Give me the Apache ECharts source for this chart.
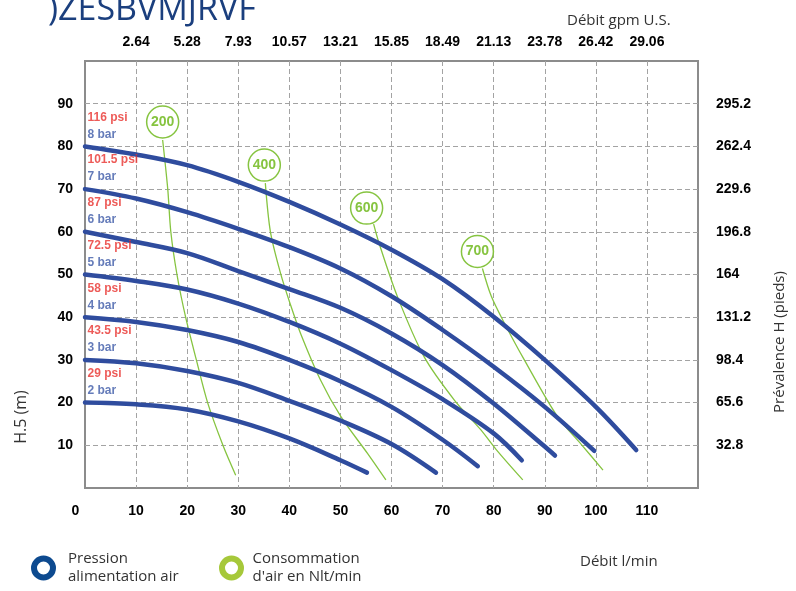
<!DOCTYPE html>
<html lang="fr">
<head>
<meta charset="UTF-8">
<title>Courbe de performance</title>
<script src="https://cdn.jsdelivr.net/npm/echarts/dist/echarts.min.js"></script>
<style>
    html, body { margin: 0; padding: 0; background: #fff; }
    #chart { width: 796px; height: 591px; }
</style>
</head>
<body>
<div id="chart"></div>
<script>
    // pression d'alimentation air : débit l/min -> hauteur m
    var pressureBars = ['2 bar', '3 bar', '4 bar', '5 bar', '6 bar', '7 bar', '8 bar'];
    var pressurePsi = ['29 psi', '43.5 psi', '58 psi', '72.5 psi', '87 psi', '101.5 psi', '116 psi'];
    var curve2 = [[0, 20], [10, 19.6], [20, 18.4], [30, 15.6], [40, 11.6], [50, 6.5], [55.2, 3.6]];
    var curve3 = [[0, 30], [10, 29.2], [20, 27.4], [30, 24.6], [40, 20.4], [50, 15.8], [60, 10.3], [68.7, 3.6]];
    var curve4 = [[0, 40], [10, 38.9], [20, 37.0], [30, 34.2], [40, 30.0], [50, 25.0], [60, 19.0], [70, 11.3], [76.9, 5.1]];
    var curve5 = [[0, 50], [10, 48.5], [20, 46.5], [30, 43.2], [40, 38.9], [50, 33.8], [60, 27.6], [70, 20.8], [80, 12.8], [85.5, 6.5]];
    var curve6 = [[0, 60], [10, 57.6], [20, 55.0], [30, 50.8], [40, 46.6], [50, 42.2], [60, 36.2], [70, 28.8], [80, 19.8], [90, 9.7], [92, 7.6]];
    var curve7 = [[0, 70], [10, 67.8], [20, 64.6], [30, 60.7], [40, 56.4], [50, 51.4], [60, 44.9], [70, 37.0], [80, 28.4], [90, 19.0], [99.7, 8.7]];
    var curve8 = [[0, 80], [10, 78.1], [20, 75.6], [30, 71.7], [40, 67.0], [50, 61.7], [60, 55.8], [70, 48.9], [80, 40.1], [90, 30.0], [100, 19.0], [107.9, 8.9]];
    var pressureCurves = [curve2, curve3, curve4, curve5, curve6, curve7, curve8];

    // consommation d'air en Nlt/min
    var airNames = ['200', '400', '600', '700'];
    var air200 = [[15.2, 81.5], [16.2, 70], [16.8, 60], [18.0, 50], [19.7, 40], [21.8, 30], [24.0, 20], [27.0, 10], [29.5, 3.0]];
    var air400 = [[35.3, 71.4], [36.3, 60], [38.3, 50.2], [40.2, 43], [42.2, 36.2], [46.1, 25.3], [50.1, 16.7], [55.3, 8.1], [58.9, 1.9]];
    var air600 = [[56.5, 61.8], [57.6, 57.2], [61.2, 44.7], [66.4, 30.7], [72.3, 20.6], [77.5, 13.6], [80.5, 9], [85.7, 1.9]];
    var air700 = [[77.8, 51.4], [79.5, 45], [81.8, 39.3], [86.0, 30], [92.5, 16.7], [97.3, 10], [101.4, 4.2]];
    var airCurves = [air200, air400, air600, air700];

    // étiquettes des axes
    var flowLabels = ['0', '10', '20', '30', '40', '50', '60', '70', '80', '90', '100', '110'];
    var gpmLabels = ['', '2.64', '5.28', '7.93', '10.57', '13.21', '15.85', '18.49', '21.13', '23.78', '26.42', '29.06'];
    var headLabels = ['', '10', '20', '30', '40', '50', '60', '70', '80', '90'];
    var feetLabels = ['', '32.8', '65.6', '98.4', '131.2', '164', '196.8', '229.6', '262.4', '295.2'];

    var BLUE = '#2f4c9e';
    var GREEN = '#86c440';
    var tickFont = 'Liberation Sans';
    var textFont = 'Open Sans';
    var circleOffsets = [[0, -18], [-1, -18], [-7, -16], [-5, -17]];

    function pick(arr, v) {
        var s = arr[Math.round(v / 10)];
        return s === undefined ? '' : s;
    }

    var series = [];
    for (var a = 0; a < airCurves.length; a++) {
        series.push({
            name: "Consommation d'air en Nlt/min",
            type: 'line',
            data: airCurves[a],
            smooth: 0.3,
            symbol: 'none',
            z: 2,
            lineStyle: { color: GREEN, width: 1.3 },
            itemStyle: { color: GREEN },
            markPoint: {
                symbol: 'circle',
                symbolSize: 32,
                symbolOffset: circleOffsets[a],
                itemStyle: { color: '#fff', borderColor: GREEN, borderWidth: 1.5 },
                label: {
                    show: true, position: 'inside', color: GREEN,
                    fontSize: 14, fontWeight: 'bold', fontFamily: tickFont,
                    formatter: '{c}'
                },
                data: [{ coord: airCurves[a][0], value: airNames[a] }]
            }
        });
    }
    for (var p = 0; p < pressureCurves.length; p++) {
        series.push({
            name: 'Pression alimentation air',
            type: 'line',
            data: pressureCurves[p],
            smooth: 0.35,
            symbol: 'none',
            z: 3,
            lineStyle: { color: BLUE, width: 4.5, cap: 'round' },
            itemStyle: { color: BLUE }
        });
    }
    // libellés psi / bar au départ de chaque courbe
    series.push({
        name: 'labels',
        type: 'scatter',
        symbolSize: 1,
        silent: true,
        z: 4,
        itemStyle: { color: 'rgba(0,0,0,0)' },
        data: pressureCurves.map(function (c, i) {
            return [c[0][0], c[0][1], pressurePsi[i], pressureBars[i]];
        }),
        label: {
            show: true,
            position: [3, -37],
            align: 'left',
            verticalAlign: 'top',
            formatter: function (pr) {
                return '{r|' + pr.data[2] + '}\n{b|' + pr.data[3] + '}';
            },
            rich: {
                r: { color: '#e8322e', fontSize: 12, fontWeight: 'bold', fontFamily: tickFont, lineHeight: 17 },
                b: { color: '#3d5aa8', fontSize: 12, fontWeight: 'bold', fontFamily: tickFont, lineHeight: 17 }
            }
        }
    });

    var gridLine = { show: true, showMinLine: false, showMaxLine: false, lineStyle: { color: '#a3a3a3', width: 1, type: [5, 3] } };

    var option = {
        animation: false,
        title: [
            { text: ')ZESBVMJRVF', left: 43, top: -12, textStyle: { color: '#1b3f7e', fontSize: 34, fontWeight: 'normal', fontFamily: textFont } },
            { text: 'Débit gpm U.S.', left: 562, top: 8, textStyle: { color: '#333', fontSize: 15, fontWeight: 'normal', fontFamily: textFont } },
            { text: 'Débit l/min', left: 575, top: 549, textStyle: { color: '#333', fontSize: 15, fontWeight: 'normal', fontFamily: textFont } }
        ],
        legend: [
            {
                left: 26, top: 545, selectedMode: false, itemWidth: 39, itemHeight: 19,
                data: [{ name: 'Pression alimentation air', icon: 'circle', itemStyle: { color: '#fff', borderColor: '#0d4a8f', borderWidth: 6 } }],
                formatter: function () { return 'Pression\nalimentation air'; },
                textStyle: { color: '#333', fontSize: 15, lineHeight: 18, fontFamily: textFont }
            },
            {
                left: 214, top: 545, selectedMode: false, itemWidth: 32, itemHeight: 19,
                data: [{ name: "Consommation d'air en Nlt/min", icon: 'circle', itemStyle: { color: '#fff', borderColor: '#a6c83a', borderWidth: 6 } }],
                formatter: function () { return "Consommation\nd'air en Nlt/min"; },
                textStyle: { color: '#333', fontSize: 15, lineHeight: 18, fontFamily: textFont }
            }
        ],
        grid: { left: 85, right: 98, top: 61, bottom: 103, show: true, borderColor: '#8c8c8c', borderWidth: 2 },
        xAxis: [
            {
                type: 'value', position: 'bottom', min: 0, max: 120, interval: 10,
                axisLine: { show: false }, axisTick: { show: false }, splitLine: gridLine,
                axisLabel: {
                    margin: 16, showMaxLabel: false,
                    color: '#000', fontSize: 14, fontWeight: 'bold', fontFamily: tickFont,
                    formatter: function (v) {
                        var s = pick(flowLabels, v);
                        return v === 0 ? '{z|' + s + '}' : s;
                    },
                    rich: { z: { padding: [0, 19, 0, 0], color: '#000', fontSize: 14, fontWeight: 'bold', fontFamily: tickFont } }
                }
            },
            {
                type: 'value', position: 'top', min: 0, max: 120, interval: 10,
                axisLine: { show: false }, axisTick: { show: false }, splitLine: { show: false },
                axisLabel: {
                    margin: 12, color: '#000', fontSize: 14, fontWeight: 'bold', fontFamily: tickFont,
                    formatter: function (v) { return pick(gpmLabels, v); }
                }
            }
        ],
        yAxis: [
            {
                type: 'value', position: 'left', min: 0, max: 100, interval: 10,
                axisLine: { show: false }, axisTick: { show: false }, splitLine: gridLine,
                axisLabel: {
                    margin: 12, color: '#000', fontSize: 14, fontWeight: 'bold', fontFamily: tickFont,
                    formatter: function (v) { return pick(headLabels, v); }
                }
            },
            {
                type: 'value', position: 'right', min: 0, max: 100, interval: 10,
                axisLine: { show: false }, axisTick: { show: false }, splitLine: { show: false },
                axisLabel: {
                    margin: 18, color: '#000', fontSize: 14, fontWeight: 'bold', fontFamily: tickFont,
                    formatter: function (v) { return pick(feetLabels, v); }
                }
            }
        ],
        graphic: [
            { type: 'text', x: 21, y: 417, rotation: Math.PI / 2, style: { text: 'H.5 (m)', fill: '#333', fontSize: 16, fontFamily: textFont, align: 'center', verticalAlign: 'middle' } },
            { type: 'text', x: 780, y: 342, rotation: Math.PI / 2, style: { text: 'Prévalence H (pieds)', fill: '#333', fontSize: 15, fontFamily: textFont, align: 'center', verticalAlign: 'middle' } }
        ],
        series: series
    };

    var myChart = echarts.init(document.getElementById('chart'));
    myChart.setOption(option);
</script>
</body>
</html>
